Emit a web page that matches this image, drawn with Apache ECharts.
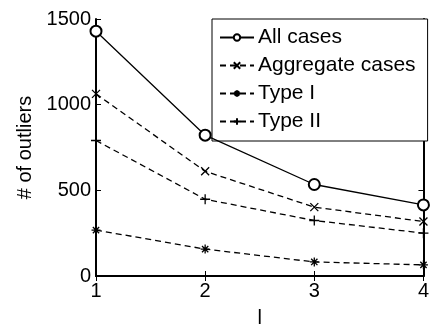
<!DOCTYPE html>
<html>
<head>
<meta charset="utf-8">
<script src="https://cdn.jsdelivr.net/npm/echarts@6/dist/echarts.min.js"></script>
<style>
  html, body { margin: 0; padding: 0; background: #fff; }
  #chart { width: 432px; height: 333px; }
</style>
</head>
<body>
<div id="chart"></div>
<script>
// data
var lValues = [1, 2, 3, 4];
var allCases = [1429, 822, 534, 415];
var aggregateCases = [1063, 611, 402, 318];
var typeI = [268, 157, 82, 65];
var typeII = [791, 448, 324, 250];
var yTicks = [0, 500, 1000, 1500];

function pairs(vals) {
  return lValues.map(function (x, i) { return [x, vals[i]]; });
}

var font = 'Liberation Sans, Arial, sans-serif';
var myChart = echarts.init(document.getElementById('chart'));

var markerStyle = { color: '#000', borderColor: '#000', borderWidth: 1.3 };

var option = {
  backgroundColor: '#fff',
  animation: false,
  textStyle: { fontFamily: font, color: '#000' },
  grid: { left: 96, top: 19, right: 1, bottom: 44 },
  legend: {
    orient: 'vertical',
    left: 212,
    top: 19,
    padding: [8, 12, 9, 7],
    itemWidth: 34,
    itemHeight: 8,
    itemGap: 7,
    borderColor: '#000',
    borderWidth: 1,
    backgroundColor: '#fff',
    textStyle: { fontFamily: font, fontSize: 21, lineHeight: 21, color: '#000', padding: [0, 0, 0, -1] },
    data: ['All cases', 'Aggregate cases', 'Type I', 'Type II']
  },
  xAxis: [{
    type: 'value',
    min: 1, max: 4, interval: 1,
    name: 'l',
    nameLocation: 'middle',
    nameGap: 32,
    nameTextStyle: { fontFamily: font, fontSize: 20, color: '#000' },
    axisLine: { lineStyle: { color: '#000', width: 2 } },
    axisTick: { inside: true, length: 5, lineStyle: { color: '#000' } },
    axisLabel: { fontFamily: font, fontSize: 20, color: '#000', margin: 5 },
    splitLine: { show: false }
  }, {
    type: 'value',
    position: 'top',
    min: 1, max: 4, interval: 1,
    axisLine: { lineStyle: { color: '#000', width: 2 } },
    axisTick: { inside: true, length: 5, lineStyle: { color: '#000' } },
    axisLabel: { show: false },
    splitLine: { show: false }
  }],
  yAxis: [{
    type: 'value',
    min: yTicks[0], max: yTicks[yTicks.length - 1], interval: 500,
    name: '# of outliers',
    nameLocation: 'middle',
    nameGap: 58,
    nameTextStyle: { fontFamily: font, fontSize: 20, color: '#000' },
    axisLine: { show: true, lineStyle: { color: '#000', width: 2 } },
    axisTick: { show: true, inside: true, length: 5, lineStyle: { color: '#000' } },
    axisLabel: { fontFamily: font, fontSize: 20, color: '#000', margin: 5, formatter: function (v) { return String(v); } },
    splitLine: { show: false }
  }, {
    type: 'value',
    position: 'right',
    min: 0, max: 1500, interval: 500,
    axisLine: { show: true, lineStyle: { color: '#000', width: 2 } },
    axisTick: { show: true, inside: true, length: 5, lineStyle: { color: '#000' } },
    axisLabel: { show: false },
    splitLine: { show: false }
  }],
  series: [{
    name: 'All cases',
    type: 'line',
    data: pairs(allCases),
    symbol: 'emptyCircle',
    symbolSize: 11,
    lineStyle: { color: '#000', width: 1.3 },
    itemStyle: { color: '#000', borderColor: '#000', borderWidth: 1.3 },
    z: 5
  }, {
    name: 'Aggregate cases',
    type: 'line',
    data: pairs(aggregateCases),
    symbol: 'path://M0,0L10,10M10,0L0,10',
    symbolSize: 8,
    lineStyle: { color: '#000', width: 1.3, type: [6, 4] },
    itemStyle: markerStyle
  }, {
    name: 'Type I',
    type: 'line',
    data: pairs(typeI),
    symbol: 'path://M5,0L5,10M0,5L10,5M1.5,1.5L8.5,8.5M8.5,1.5L1.5,8.5',
    symbolSize: 9,
    lineStyle: { color: '#000', width: 1.3, type: [6, 4] },
    itemStyle: markerStyle
  }, {
    name: 'Type II',
    type: 'line',
    data: pairs(typeII),
    symbol: 'path://M5,0L5,10M0,5L10,5',
    symbolSize: 10,
    lineStyle: { color: '#000', width: 1.3, type: [6, 4] },
    itemStyle: markerStyle
  }]
};

myChart.setOption(option);
</script>
</body>
</html>
